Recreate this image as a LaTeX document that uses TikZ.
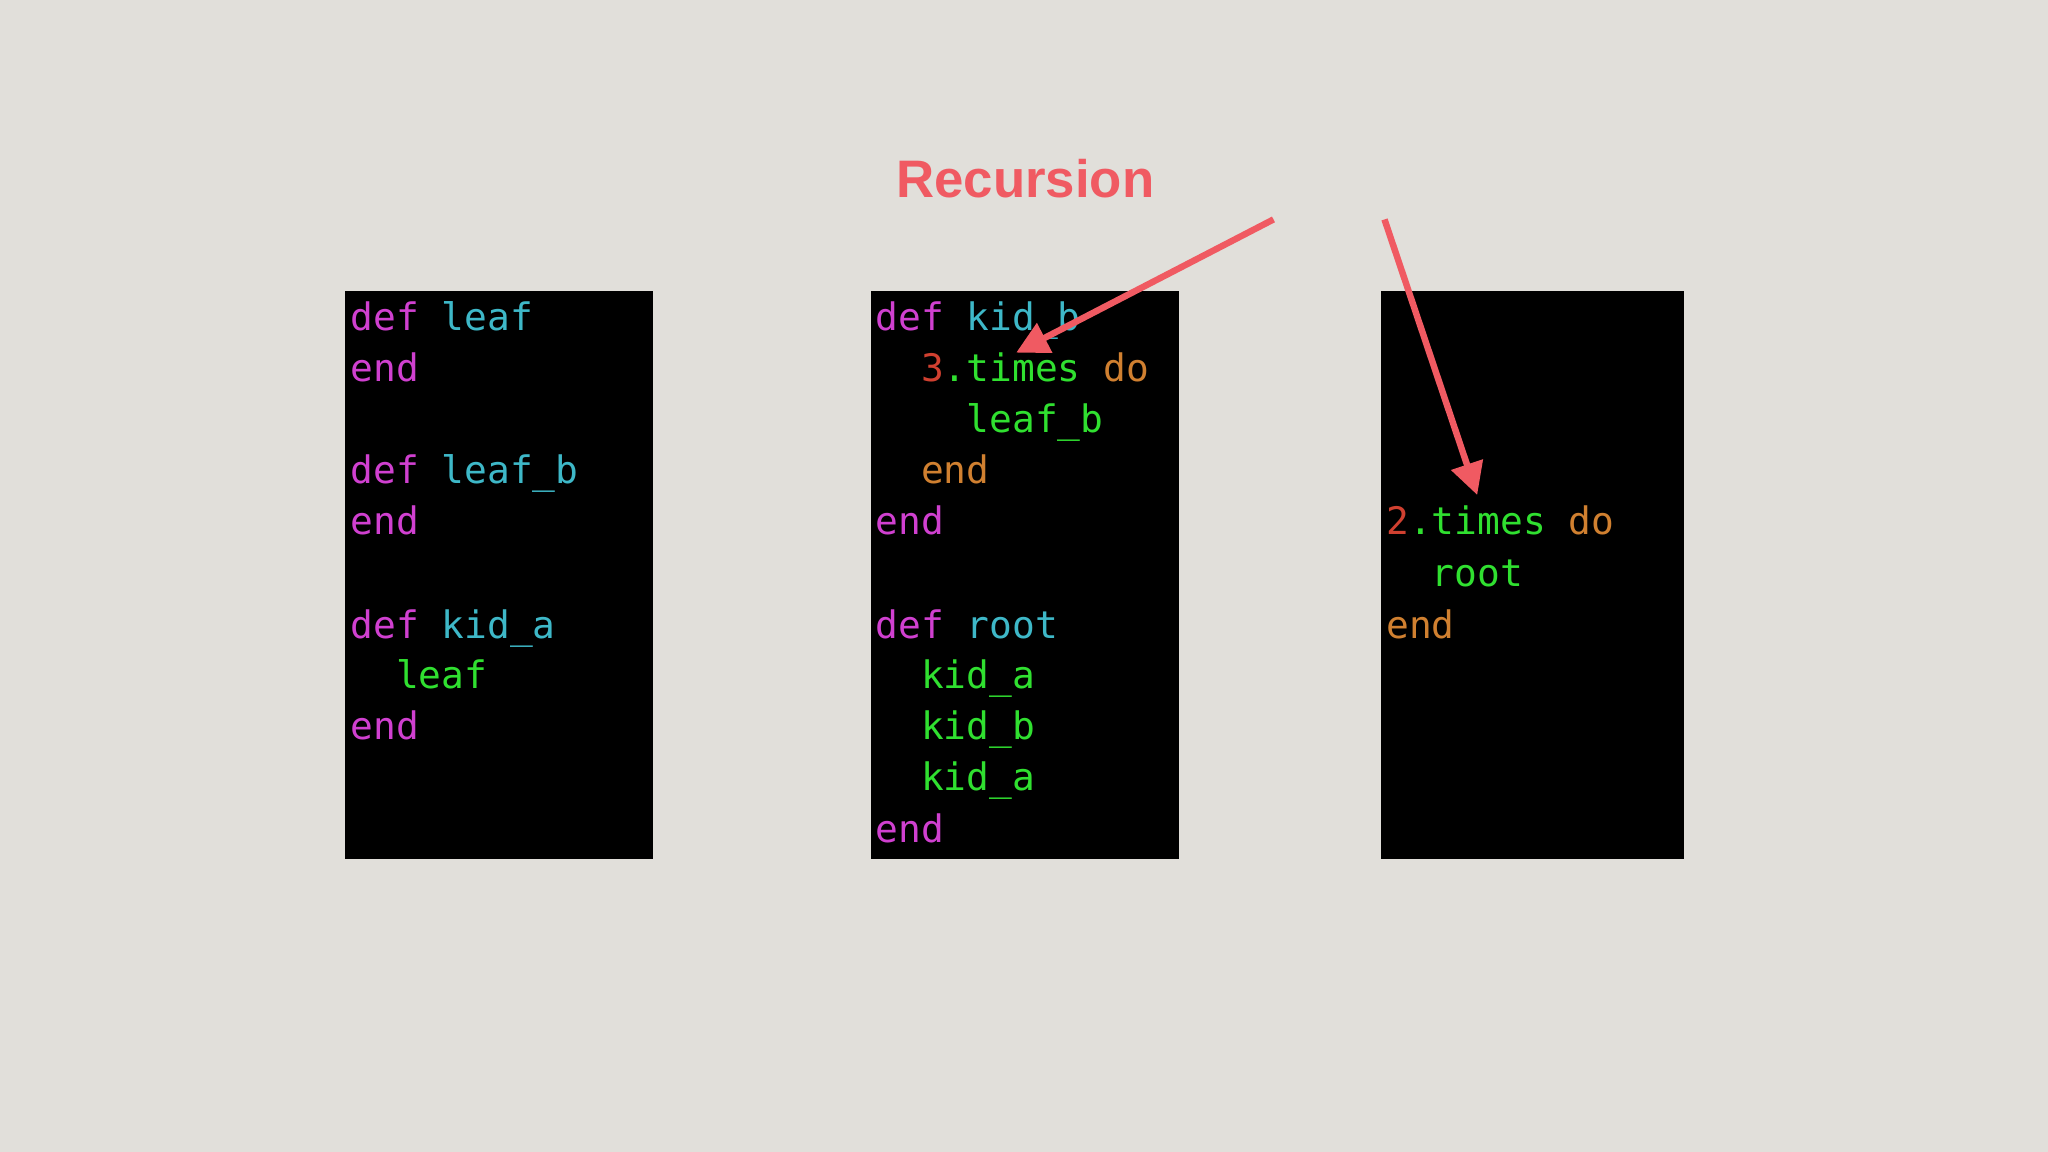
\documentclass[tikz,border=0pt]{standalone}
\usepackage{fontspec}
\setmonofont{DejaVu Sans Mono}
\newfontfamily\titlefont{Liberation Sans}
\usetikzlibrary{arrows.meta}
\definecolor{bg}{HTML}{E1DFDA}
\definecolor{kw}{HTML}{D040D0}
\definecolor{nm}{HTML}{3EB8C8}
\definecolor{cl}{HTML}{30E030}
\definecolor{or}{HTML}{D08030}
\definecolor{nu}{HTML}{D04030}
\definecolor{ar}{HTML}{F05A62}
\newcommand{\CK}[1]{\textcolor{kw}{#1}}
\newcommand{\CN}[1]{\textcolor{nm}{#1}}
\newcommand{\CG}[1]{\textcolor{cl}{#1}}
\newcommand{\CO}[1]{\textcolor{or}{#1}}
\newcommand{\CR}[1]{\textcolor{nu}{#1}}
\begin{document}
\begin{tikzpicture}[x=0.02cm,y=-0.02cm,
  code/.style={anchor=base west,inner sep=0pt,yshift=-8*0.02cm,font=\ttfamily\fontsize{16.5}{20}\selectfont},
  arr/.style={draw=ar,line width=2.8pt,-{Triangle[length=14pt,width=14pt]}}]
\fill[bg] (0,0) rectangle (1568,882);
\fill[black] (264,223) rectangle (500,658);
\fill[black] (667,223) rectangle (903,658);
\fill[black] (1057,223) rectangle (1289,658);
% box 1
\node[code] (a1) at (268,245) {\CK{def} \CN{leaf}};
\node[code] (a2) at (268,284) {\CK{end}};
\node[code] (a3) at (268,362.5) {\CK{def} \CN{leaf\_b}};
\node[code] (a4) at (268,401.5) {\CK{end}};
\node[code] (a5) at (268,480.5) {\CK{def} \CN{kid\_a}};
\node[code] (a6) at (268,519.5) {\CG{\ \ leaf}};
\node[code] (a7) at (268,558.5) {\CK{end}};
% box 2
\node[code] (b1) at (670,245) {\CK{def} \CN{kid\_b}};
\node[code] (b2) at (670,284) {\ \ \CR{3}\CG{.times} \CO{do}};
\node[code] (b3) at (670,323.5) {\CG{\ \ \ \ leaf\_b}};
\node[code] (b4) at (670,362.5) {\CO{\ \ end}};
\node[code] (b5) at (670,401.5) {\CK{end}};
\node[code] (b6) at (670,480.5) {\CK{def} \CN{root}};
\node[code] (b7) at (670,519.5) {\CG{\ \ kid\_a}};
\node[code] (b8) at (670,558.5) {\CG{\ \ kid\_b}};
\node[code] (b9) at (670,597.5) {\CG{\ \ kid\_a}};
\node[code] (b10) at (670,637) {\CK{end}};
% box 3
\node[code] (c1) at (1061,401.5) {\CR{2}\CG{.times} \CO{do}};
\node[code] (c2) at (1061,441) {\CG{\ \ root}};
\node[code] (c3) at (1061,480.5) {\CO{end}};
% title and arrows
\node[font=\titlefont\bfseries\fontsize{23}{26}\selectfont,text=ar] (title) at (785,137) {Recursion};
\coordinate (s1) at (975,168);
\coordinate (e1) at (778,270);
\coordinate (s2) at (1060,168);
\coordinate (e2) at (1131,379);
\draw[arr] (s1) -- (e1);
\draw[arr] (s2) -- (e2);
\end{tikzpicture}
\end{document}
